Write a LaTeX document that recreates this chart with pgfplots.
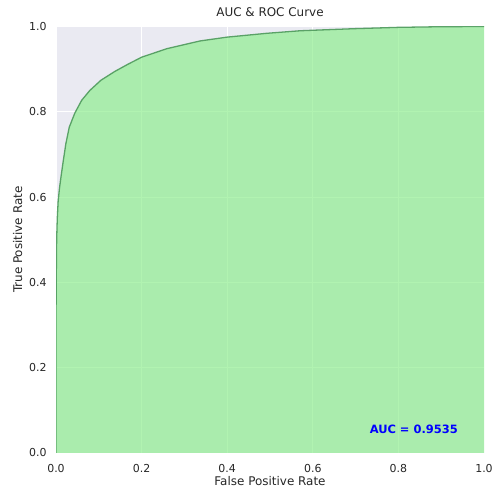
\documentclass[border=0pt]{standalone}
\usepackage{fontspec}
\setmainfont{DejaVu Sans}
\usepackage{pgfplots}
\pgfplotsset{compat=1.18}
\definecolor{bgc}{HTML}{EAEAF2}
\definecolor{lgreen}{HTML}{90EE90}
\definecolor{lcol}{HTML}{4E9A5C}
\definecolor{txt}{HTML}{262626}
\pgfplotstableread{
x y
0 0
0 0.30
0.0005 0.40
0.0015 0.50
0.003 0.55
0.005 0.59
0.008 0.62
0.012 0.65
0.017 0.685
0.023 0.725
0.031 0.764
0.044 0.797
0.060 0.827
0.079 0.850
0.105 0.874
0.138 0.895
0.169 0.912
0.200 0.928
0.259 0.948
0.336 0.966
0.399 0.975
0.492 0.984
0.570 0.990
0.700 0.995
0.800 0.998
0.900 0.9995
1.000 1.000
}\roc
\begin{document}
\begin{tikzpicture}
\begin{axis}[
  scale only axis,
  width=428bp, height=426.5bp,
  xmin=0, xmax=1, ymin=0, ymax=1,
  axis background/.style={fill=bgc},
  axis line style={draw=none},
  major tick length=0pt,
  grid=major,
  major grid style={white, line width=0.9pt},
  xtick={0,0.2,0.4,0.6,0.8,1},
  ytick={0,0.2,0.4,0.6,0.8,1},
  xticklabel style={/pgf/number format/fixed, /pgf/number format/fixed zerofill, /pgf/number format/precision=1, text=txt, font=\fontsize{11}{13}\selectfont},
  yticklabel style={/pgf/number format/fixed, /pgf/number format/fixed zerofill, /pgf/number format/precision=1, text=txt, font=\fontsize{11}{13}\selectfont},
  /pgf/number format/assume math mode=true,
  xticklabel shift=8pt,
  yticklabel shift=6pt,
  xlabel={False Positive Rate},
  ylabel={True Positive Rate},
  xlabel style={text=txt, font=\fontsize{12}{14}\selectfont, yshift=3pt},
  ylabel style={text=txt, font=\fontsize{12}{14}\selectfont},
  title={AUC \& ROC Curve},
  title style={text=txt, font=\fontsize{12}{14}\selectfont, yshift=0pt},
]
\addplot[draw=none, fill=lgreen, fill opacity=0.7] table {\roc} \closedcycle;
\addplot[color=lcol, line width=1.3pt, opacity=0.9, line join=round] table {\roc};
\node[anchor=east, text=blue, font=\bfseries\fontsize{11.5}{13}\selectfont] at (axis cs:0.947,0.056) {AUC = 0.9535};
\coordinate (ll) at (rel axis cs:0,0);
\coordinate (ur) at (rel axis cs:1,1);
\end{axis}
\pgfresetboundingbox
\path ([shift={(-56bp,-36bp)}]ll) rectangle ([shift={(8bp,26.5bp)}]ur);
\end{tikzpicture}
\end{document}
